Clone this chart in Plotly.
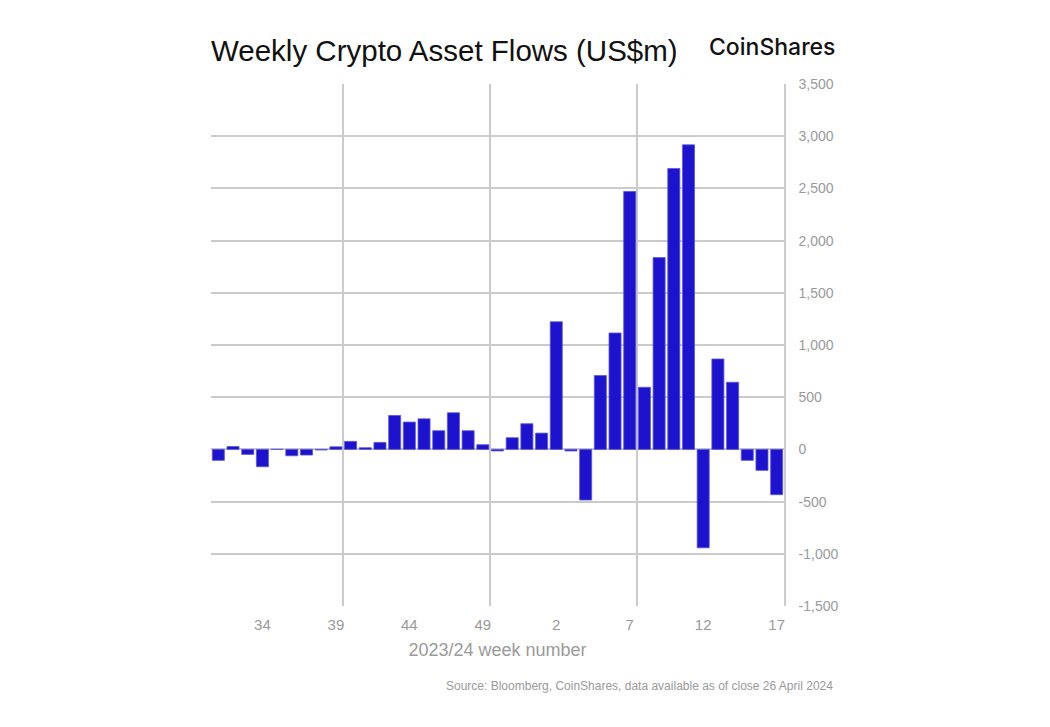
import plotly.graph_objects as go

# Week numbers (2023 wk31 .. 2024 wk17)
weeks = list(range(31, 53)) + list(range(1, 18))
flows = [
    -105, 28, -48, -166, 0, -61, -54, -6, 25, 77,
    16, 67, 325, 262, 293, 179, 351, 179, 45, -15,
    112, 246,
    156, 1223, -15, -485, 707, 1115, 2471, 595, 1837, 2691,
    2917, -943, 866, 643, -105, -201, -434,
]
label_weeks = [34, 39, 44, 49, 2, 7, 12, 17]
grid_after_weeks = [39, 49, 7]
y_ticks = [-1500, -1000, -500, 0, 500, 1000, 1500, 2000, 2500, 3000, 3500]

idx = list(range(len(weeks)))
tickvals = [weeks.index(w) for w in label_weeks]
ticktext = [str(w) for w in label_weeks]
minor_vals = [weeks.index(w) + 0.5 for w in grid_after_weeks]
y_ticktext = [f"{v:,}" for v in y_ticks]

BAR = "#1d13cf"
GRID = "#cbcbcb"
TXT = "#9a9a9a"
FONT = "Liberation Sans, Arial, sans-serif"

fig = go.Figure()
fig.add_trace(go.Bar(
    x=idx, y=flows,
    marker=dict(color=BAR, line=dict(color="#5a55dc", width=0.8)),
    hoverinfo="y",
))

fig.update_layout(
    width=1050, height=727,
    paper_bgcolor="white", plot_bgcolor="white",
    margin=dict(l=203, r=274, t=76, b=129),
    bargap=0.18,
    showlegend=False,
    font=dict(family=FONT, color=TXT),
    xaxis=dict(
        range=[-0.5, len(weeks) - 0.5],
        tickmode="array", tickvals=tickvals, ticktext=ticktext,
        showgrid=False, ticks="", zeroline=False,
        tickfont=dict(size=15, color=TXT, family=FONT),
        ticklabelstandoff=8,
        minor=dict(tickmode="array", tickvals=minor_vals, showgrid=True,
                   gridcolor=GRID, gridwidth=1.5, ticks=""),
        title=dict(text="2023/24 week number", font=dict(size=18, color=TXT, family=FONT),
                   standoff=11),
        showline=False,
    ),
    yaxis=dict(
        side="right",
        range=[-1500, 3500],
        tickmode="array", tickvals=y_ticks, ticktext=y_ticktext,
        showgrid=True, gridcolor=GRID, gridwidth=1.5,
        zeroline=True, zerolinecolor=GRID, zerolinewidth=1.5,
        showline=True, linecolor=GRID, linewidth=1.5,
        ticks="", ticklabelstandoff=10,
        tickfont=dict(size=14, color=TXT, family=FONT),
    ),
    annotations=[
        dict(text="Weekly Crypto Asset Flows (US$m)", xref="paper", yref="paper",
             x=-0.003, y=1.0, yshift=15, xanchor="left", yanchor="bottom", showarrow=False,
             font=dict(size=29.5, color="#111111", family=FONT)),
        dict(text="CoinShares", xref="paper", yref="paper",
             x=1.0, y=1.0, xshift=54, yshift=21, xanchor="right", yanchor="bottom", showarrow=False,
             font=dict(size=23, color="#111111", family="Inter, Liberation Sans, sans-serif", weight=500)),
        dict(text="Source: Bloomberg, CoinShares, data available as of close 26 April 2024",
             xref="paper", yref="paper", x=1.0, y=0, xshift=51, yshift=-71,
             xanchor="right", yanchor="top", showarrow=False,
             font=dict(size=12, color=TXT, family=FONT)),
    ],
)

fig.write_html("out.html")
